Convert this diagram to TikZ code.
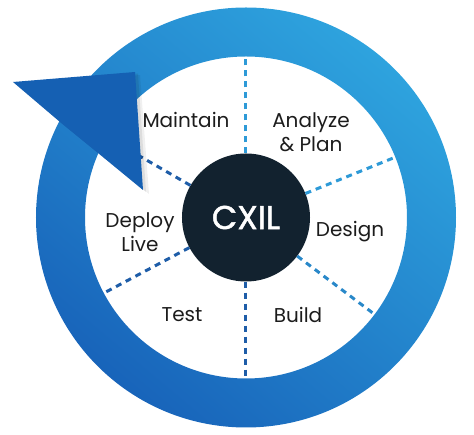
\documentclass[tikz,border=0pt]{standalone}
\usepackage{fontspec}
\setmainfont{Poppins}
\newfontfamily\hubfont{Poppins}[FakeBold=1.4]
\usetikzlibrary{shapes}
\definecolor{ringlight}{HTML}{2EA3DE}
\definecolor{ringdark}{HTML}{1864BA}
\definecolor{arrowblue}{HTML}{1560B3}
\definecolor{hubnavy}{HTML}{12222F}
\definecolor{spokelight}{HTML}{2E9AD7}
\definecolor{spokedark}{HTML}{1E5DA8}
\definecolor{labelgrey}{HTML}{1C1C1C}

\begin{document}
\begin{tikzpicture}[x=1pt,y=1pt]
		\tikzstyle{phase}=[text=labelgrey,font=\fontsize{20}{24}\selectfont,align=center,inner sep=0pt,anchor=base]
		\tikzstyle{spoke}=[line width=3pt,dash pattern=on 6pt off 5pt]
		\tikzstyle{hub}=[circle,fill=hubnavy,text=white,minimum size=128pt,inner sep=0pt,font=\hubfont\fontsize{33}{36}\selectfont]
		\useasboundingbox (-246,-217.5) rectangle (228,217.5);

		% ring
		\shade[even odd rule,top color=ringlight,bottom color=ringdark,shading angle=-40] (0,0) circle (210) (0,0) circle (161);

		\node[hub] (CX) at (0,0) {CXIL};

		\coordinate (R1) at (90:161);
		\coordinate (R2) at (22:161);
		\coordinate (R3) at (-37:161);
		\coordinate (R4) at (-90:161);
		\coordinate (R5) at (208:161);
		\coordinate (R6) at (150:161);

		\node[phase] (MA) at (-60,89.5) {Maintain};
		\node[phase] (AP) at (65,65.5) {Analyze\\\& Plan};
		\node[phase] (DE) at (104,-19.5) {Design};
		\node[phase] (BU) at (52,-105.5) {Build};
		\node[phase] (TE) at (-64,-104.5) {Test};
		\node[phase] (DL) at (-106,-34.5) {Deploy\\Live};

		\draw[spoke,spokelight] (CX.90)--(R1);
		\draw[spoke,spokelight] (CX.22)--(R2);
		\draw[spoke,spokelight!70!spokedark] (CX.-37)--(R3);
		\draw[spoke,spokedark] (CX.-90)--(R4);
		\draw[spoke,spokedark] (CX.208)--(R5);
		\draw[spoke,spokedark] (CX.150)--(R6);

		% arrow head
		\fill[black,opacity=0.06] (-229,132.5)--(-106,142.5)--(-97,23.5)--(-144,61.5)--(-182,92.5)--cycle;
		\fill[black,opacity=0.08] (-231,134)--(-108,144)--(-100,25.5)--(-146,63)--(-184,94)--cycle;
		\fill[arrowblue] (-233,135.5)--(-111,145.5)--(-103,27.5)--(-148,64.5)--(-186,95.5)--cycle;
	\end{tikzpicture}
\end{document}
